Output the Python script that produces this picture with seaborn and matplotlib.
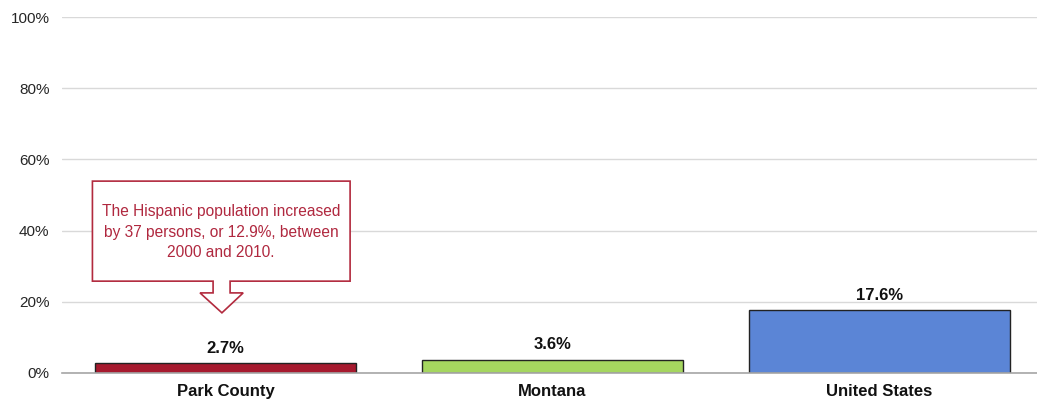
import matplotlib
matplotlib.use("Agg")
import matplotlib.pyplot as plt
import seaborn as sns
import pandas as pd
from matplotlib.patches import Polygon
from matplotlib.ticker import FuncFormatter

# Data
regions = ['Park County', 'Montana', 'United States']
pct_hispanic = [2.7, 3.6, 17.6]
bar_colors = ['#A6192E', '#A5D65F', '#5B85D6']
callout_text = 'The Hispanic population increased\nby 37 persons, or 12.9%, between\n2000 and 2010.'

sns.set_theme(style='white')
plt.rcParams['font.family'] = ['Liberation Sans', 'DejaVu Sans']

df = pd.DataFrame({'region': regions, 'pct': pct_hispanic})

fig = plt.figure(figsize=(10.37, 4.08), dpi=100)
ax = fig.add_axes([0.0598, 0.0858, 0.946, 0.8725])

sns.barplot(data=df, x='region', y='pct', hue='region', palette=bar_colors,
            saturation=1, width=0.8, edgecolor='#222222', linewidth=1,
            legend=False, ax=ax)

ax.set_ylim(0, 100)
ax.set_xlim(-0.5, 2.5)
ax.set_yticks(range(0, 101, 20))
ax.yaxis.set_major_formatter(FuncFormatter(lambda v, p: f'{int(v)}%'))
ax.grid(axis='y', color='#d9d9d9', linewidth=1)
ax.set_axisbelow(True)
for s in ['top', 'right', 'left']:
    ax.spines[s].set_visible(False)
ax.spines['bottom'].set_color('#a6a6a6')
ax.spines['bottom'].set_linewidth(1.2)
ax.set_xlabel('')
ax.set_ylabel('')
ax.tick_params(axis='y', labelsize=11, labelcolor='#262626', length=0, pad=9)
ax.tick_params(axis='x', labelsize=12, labelcolor='#111111', length=0, pad=8)
for lbl in ax.get_xticklabels():
    lbl.set_fontweight('bold')

# value labels
for i, v in enumerate(pct_hispanic):
    ax.text(i, v + 2.2, f'{v}%', ha='center', va='bottom', fontsize=12,
            fontweight='bold', color='#111111')

# callout box with down arrow
callout = [(-0.407, 53.9), (0.381, 53.9), (0.381, 25.8), (0.014, 25.8),
           (0.014, 22.5), (0.054, 22.5), (-0.011, 16.9), (-0.078, 22.5),
           (-0.038, 22.5), (-0.038, 25.8), (-0.407, 25.8)]
ax.add_patch(Polygon(callout, closed=True, facecolor='white',
                     edgecolor='#B22A3E', linewidth=1.2, zorder=5))
ax.text(-0.014, 39.6, callout_text, ha='center', va='center', fontsize=11.2,
        color='#B0283F', linespacing=1.42, zorder=6)

fig.savefig('out.png', dpi=100)
